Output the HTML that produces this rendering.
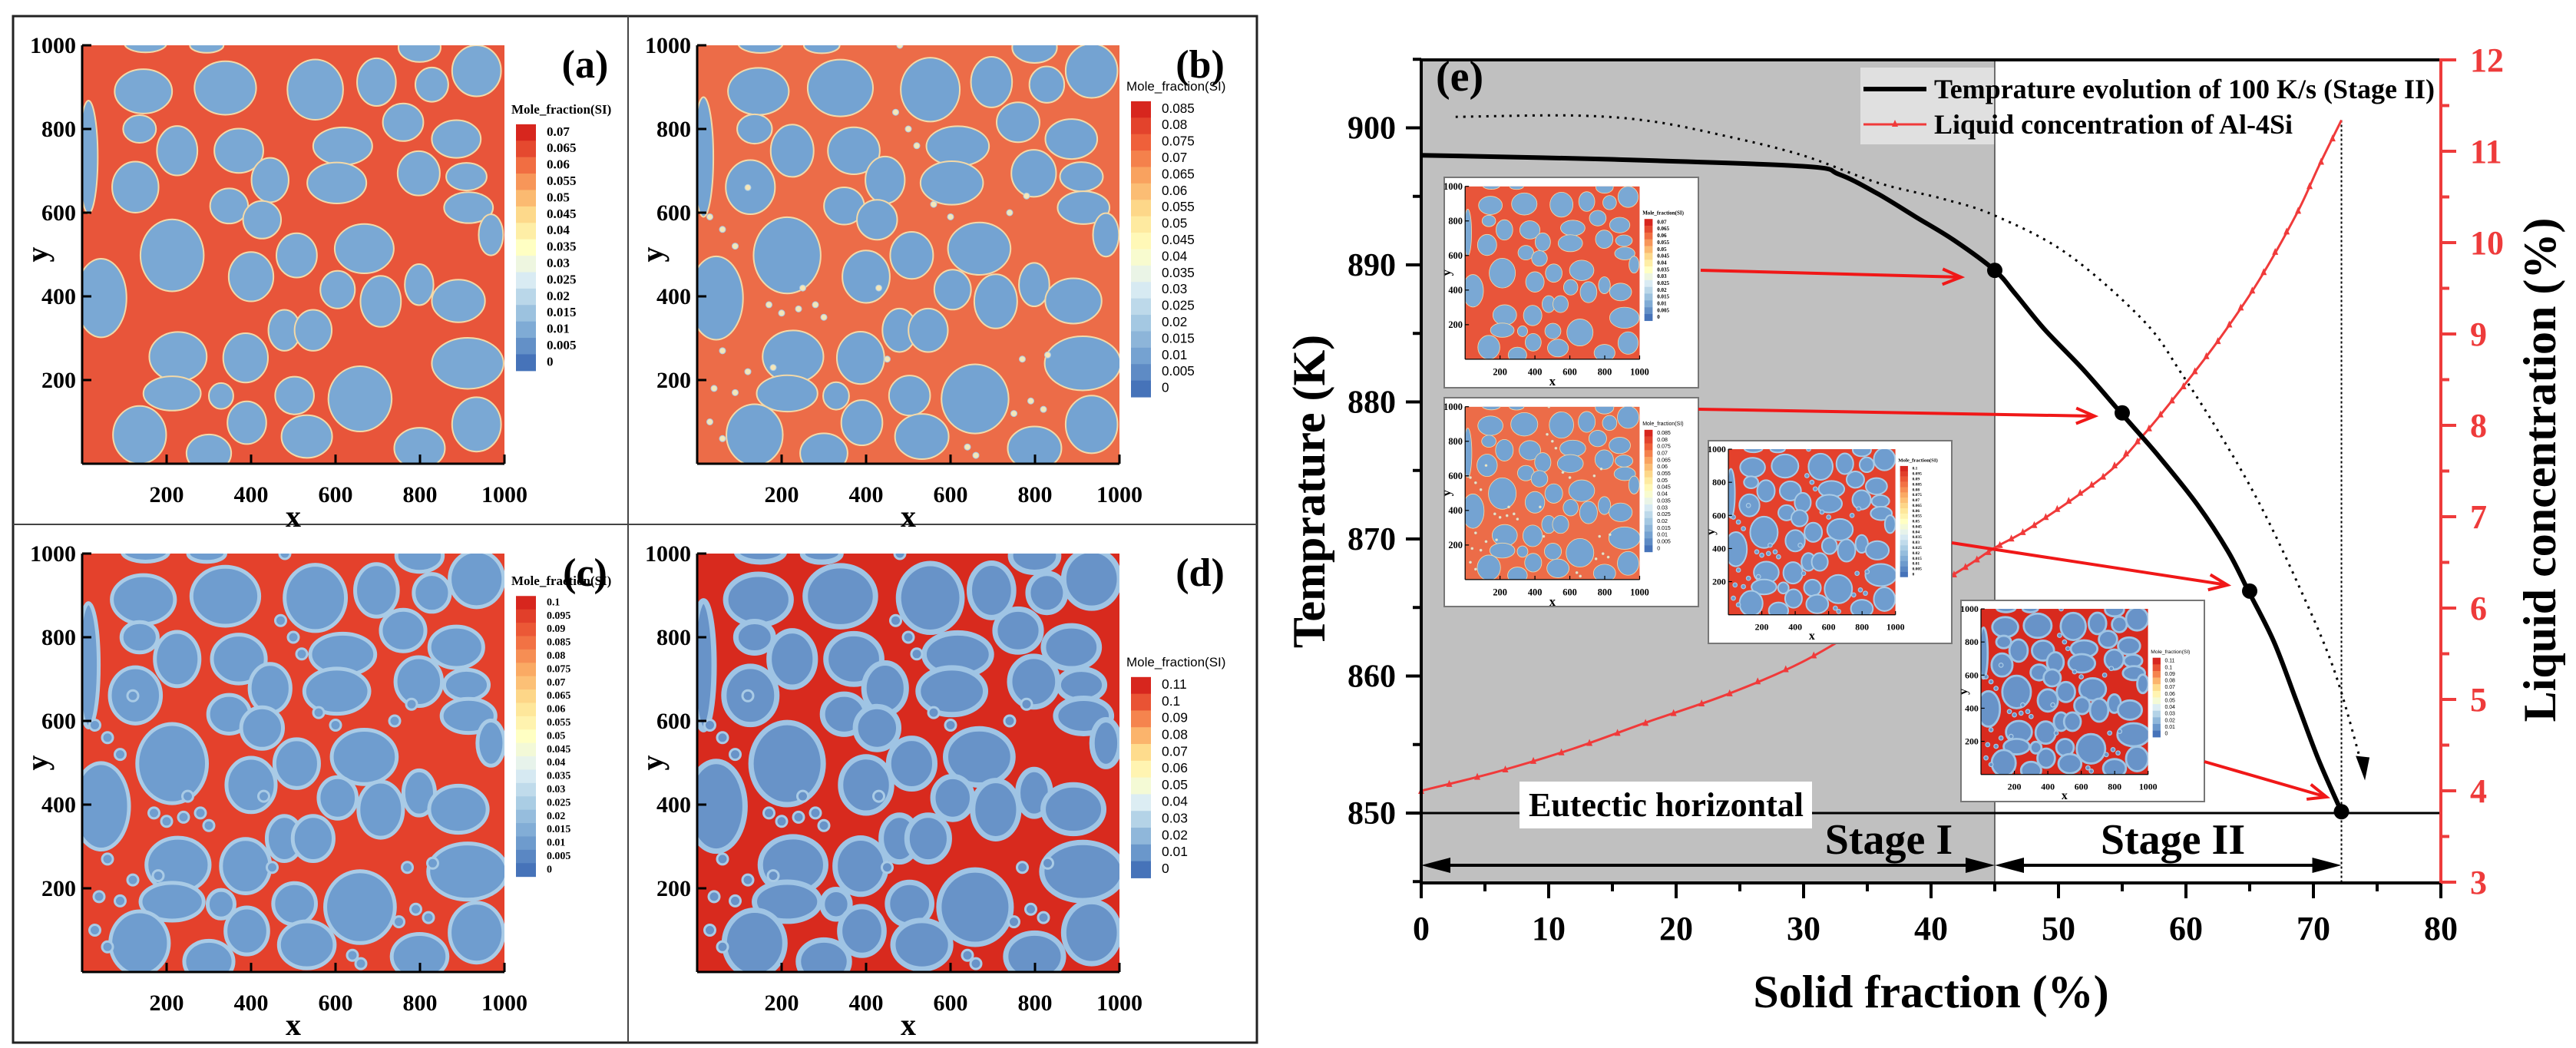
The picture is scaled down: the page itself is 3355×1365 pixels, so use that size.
<!DOCTYPE html>
<html><head><meta charset="utf-8"><title>Solidification figure</title>
<style>html,body{margin:0;padding:0;background:#fff}svg{display:block}text{font-family:"Liberation Serif",serif;font-weight:bold}</style>
</head><body>
<svg id="fig" width="3355" height="1365" viewBox="0 0 3355 1365" xmlns="http://www.w3.org/2000/svg">
<rect width="3355" height="1365" fill="#fff"/>
<g id="panels"></g>
<g id="chart"></g>
</svg>
<script>
// ---------- chart data ----------
const sfBlack=[0,14.9,29.9,32.8,35.8,38.8,41.8,45,46.6,48.9,51.9,54.9,57.9,60.9,63.3,64.9,66.9,68.7,70.4,72.2];
const tBlack=[898,897.7,897.2,896.6,895.2,893.5,891.8,889.6,887.9,885.3,882.4,879.2,876.0,872.5,869.1,866.2,862.5,858.1,853.9,850.1];
const sfMarks=[45,55,65,72.2];
const tMarks=[889.6,879.2,866.2,850.1];
const sfDot=[2.7,11.9,17.9,23.9,29.9,35.8,41,45,50.7,56.7,59.7,62.7,65.7,68.7,71.6,73.8];
const tDot=[900.8,900.9,900.5,899.4,898,896,894.8,893.6,890.8,885.9,882,877.6,872.7,866.9,860.5,853.5];
const sfRed=[0,6,11.9,17.9,23.9,29.9,35.8,41.8,45,47.8,53.7,56.7,59.7,62.7,65.7,68.7,70.4,72.2];
const cRed=[4.0,4.21,4.46,4.76,5.05,5.41,5.89,6.37,6.66,6.88,7.46,7.9,8.41,8.96,9.58,10.32,10.83,11.34];
const xTicks=[0,10,20,30,40,50,60,70,80];
const tTicks=[850,860,870,880,890,900];
const cTicks=[3,4,5,6,7,8,9,10,11,12];
const eutecticT=850;
const stageSplit=45;
const stageEnd=72.2;

const NS="http://www.w3.org/2000/svg";
function mk(tag,attrs,parent){const e=document.createElementNS(NS,tag);for(const k in attrs)e.setAttribute(k,attrs[k]);parent.appendChild(e);return e;}
function txt(s,attrs,parent){const e=mk('text',attrs,parent);e.textContent=s;return e;}
function smoothPath(pts){
  let d='M'+pts[0][0]+','+pts[0][1];
  for(let i=0;i<pts.length-1;i++){
    const p0=pts[Math.max(i-1,0)],p1=pts[i],p2=pts[i+1],p3=pts[Math.min(i+2,pts.length-1)];
    const c1=[p1[0]+(p2[0]-p0[0])/6,p1[1]+(p2[1]-p0[1])/6];
    const c2=[p2[0]-(p3[0]-p1[0])/6,p2[1]-(p3[1]-p1[1])/6];
    d+=` C${c1[0]},${c1[1]} ${c2[0]},${c2[1]} ${p2[0]},${p2[1]}`;
  }
  return d;
}

// axis functions
const X=sf=>1851+16.6*sf;
const YT=t=>1059-17.85*(t-850);
const YC=c=>1149-119*(c-3);

const C=document.getElementById('chart');
let el;
el=mk('rect',{x:X(0),y:78,width:X(stageSplit)-X(0),height:1150-78,fill:'#c0c0c0'},C);


el=mk('rect',{x:2423,y:88,width:X(stageSplit)-2423,height:100,fill:'#e0e0e0'},C);


el=mk('line',{x1:X(stageSplit),y1:78,x2:X(stageSplit),y2:1150,stroke:'#444','stroke-width':1.5},C);



// eutectic line
el=mk('line',{x1:X(0),y1:YT(eutecticT),x2:X(80),y2:YT(eutecticT),stroke:'#000','stroke-width':3},C);


el=mk('rect',{x:1979,y:1018,width:381,height:61,fill:'#fff'},C);


el=txt('Eutectic horizontal',{x:2170,y:1063,'font-size':44,'text-anchor':'middle'},C);



// stage end dotted vertical
el=mk('line',{x1:X(stageEnd),y1:YC(11.34),x2:X(stageEnd),y2:1150,stroke:'#000','stroke-width':2,'stroke-dasharray':'3,3'},C);



// stage arrows
function dblArrow(a,b,y,name){
  const g=mk('g',{},C);
  
  
  mk('line',{x1:X(a)+20,y1:y,x2:X(b)-20,y2:y,stroke:'#000','stroke-width':4},g);
  mk('polygon',{points:`${X(a)},${y} ${X(a)+38},${y-10} ${X(a)+38},${y+10}`,fill:'#000'},g);
  mk('polygon',{points:`${X(b)},${y} ${X(b)-38},${y-10} ${X(b)-38},${y+10}`,fill:'#000'},g);
}
dblArrow(0,stageSplit,1127,'stage-1-arrow');
dblArrow(stageSplit,stageEnd,1127,'stage-2-arrow');
el=txt('Stage I',{x:2460,y:1112,'font-size':56,'text-anchor':'middle'},C);


el=txt('Stage II',{x:2830,y:1112,'font-size':56,'text-anchor':'middle'},C);



// dotted curve
el=mk('path',{d:smoothPath(sfDot.map((s,i)=>[X(s),YT(tDot[i])])),fill:'none',stroke:'#000','stroke-width':3,'stroke-dasharray':'3,7'},C);


{const n=sfDot.length-1;const x=X(sfDot[n]),y=YT(tDot[n]);
el=mk('polygon',{points:`${x+4},${y+20} ${x-8},${y-12} ${x+10},${y-10}`,fill:'#000'},C);

}

// red curve
el=mk('path',{d:smoothPath(sfRed.map((s,i)=>[X(s),YC(cRed[i])])),fill:'none',stroke:'#f03a3a','stroke-width':3},C);


function interpRed(s){for(let i=0;i<sfRed.length-1;i++){if(s<=sfRed[i+1]){const f=(s-sfRed[i])/(sfRed[i+1]-sfRed[i]);return cRed[i]+f*(cRed[i+1]-cRed[i]);}}return cRed[cRed.length-1];}
for(let s=sfRed[0];s<=sfRed[sfRed.length-1];s+=(s<40?2.2:0.9)){
  const x=X(s),y=YC(interpRed(s));
  el=mk('polygon',{points:`${x},${y-5} ${x-4},${y+4} ${x+4},${y+4}`,fill:'#f03a3a'},C);
  
  
}

// black curve
el=mk('path',{d:smoothPath(sfBlack.map((s,i)=>[X(s),YT(tBlack[i])])),fill:'none',stroke:'#000','stroke-width':6,'stroke-linejoin':'round'},C);


sfMarks.forEach((s,i)=>{
  el=mk('circle',{cx:X(s),cy:YT(tMarks[i]),r:10,fill:'#000'},C);
  
  
});

// axes
el=mk('line',{x1:X(0),y1:78,x2:X(80),y2:78,stroke:'#000','stroke-width':4},C);


el=mk('line',{x1:X(0),y1:76,x2:X(0),y2:1152,stroke:'#000','stroke-width':4},C);


el=mk('line',{x1:X(0)-2,y1:1150,x2:X(80),y2:1150,stroke:'#000','stroke-width':4},C);


el=mk('line',{x1:X(80),y1:76,x2:X(80),y2:1150,stroke:'#ee3b3b','stroke-width':4},C);



xTicks.forEach(v=>{
  mk('line',{x1:X(v),y1:1150,x2:X(v),y2:1170,stroke:'#000','stroke-width':4},C);
  mk('line',{x1:X(v+5),y1:1150,x2:X(v+5),y2:1161,stroke:'#000','stroke-width':4},C).setAttribute('visibility',v<80?'visible':'hidden');
  el=txt(String(v),{x:X(v),y:1224,'font-size':44,'text-anchor':'middle'},C);
  
  
});
tTicks.forEach(v=>{
  mk('line',{x1:X(0)-20,y1:YT(v),x2:X(0),y2:YT(v),stroke:'#000','stroke-width':4},C);
  mk('line',{x1:X(0)-11,y1:YT(v+5),x2:X(0),y2:YT(v+5),stroke:'#000','stroke-width':4},C);
  el=txt(String(v),{x:1818,y:YT(v)+14,'font-size':42,'text-anchor':'end'},C);
  
  
});
mk('line',{x1:X(0)-11,y1:YT(845),x2:X(0),y2:YT(845),stroke:'#000','stroke-width':4},C);
cTicks.forEach(v=>{
  mk('line',{x1:X(80),y1:YC(v),x2:X(80)+20,y2:YC(v),stroke:'#ee3b3b','stroke-width':4},C);
  if(v<12)mk('line',{x1:X(80),y1:YC(v+0.5),x2:X(80)+11,y2:YC(v+0.5),stroke:'#ee3b3b','stroke-width':4},C);
  el=txt(String(v),{x:3217,y:YC(v)+15,'font-size':44,fill:'#ee3b3b'},C);
  
  
});
el=txt('Solid fraction (%)',{x:2515,y:1312,'font-size':60,'text-anchor':'middle'},C);


el=txt('Temprature (K)',{x:0,y:0,'font-size':60,'text-anchor':'middle',transform:'translate(1725,640) rotate(-90)'},C);


el=txt('Liquid concentration (%)',{x:0,y:0,'font-size':60,'text-anchor':'middle',transform:'translate(3328,612) rotate(-90)'},C);


el=txt('(e)',{x:1870,y:118,'font-size':56},C);



// legend
el=mk('line',{x1:2427,y1:116,x2:2509,y2:116,stroke:'#000','stroke-width':6},C);


el=txt('Temprature evolution of 100 K/s (Stage II)',{x:2519,y:128,'font-size':36},C);


el=mk('line',{x1:2427,y1:162,x2:2509,y2:162,stroke:'#f03a3a','stroke-width':3},C);


mk('polygon',{points:'2468,156 2464,165 2472,165',fill:'#f03a3a'},C);
el=txt('Liquid concentration of Al-4Si',{x:2519,y:174,'font-size':36},C);



// ---------- microstructure panels ----------
const blobs=[[145,890,68,53],[339,898,73,64],[552,894,66,72],[697,912,46,57],[828,906,39,41],[934,939,58,61],[799,995,50,35],
[136,800,39,33],[225,748,48,59],[371,748,58,53],[617,759,70,45],[760,816,48,45],[886,776,58,45],[126,661,55,61],[445,678,44,53],
[603,671,70,49],[797,694,50,53],[910,686,48,33],[915,612,58,37],[968,547,29,49],[348,616,45,42],[426,583,45,45],[213,498,75,86],
[45,396,60,94],[508,498,48,53],[668,514,70,59],[400,447,53,59],[605,416,41,45],[707,388,48,61],[798,428,34,49],[891,389,63,51],
[913,240,85,61],[479,319,38,49],[547,319,44,49],[227,256,68,59],[387,253,53,59],[213,168,68,41],[329,162,29,31],[390,98,46,51],
[503,163,46,45],[658,155,75,78],[532,65,60,51],[136,69,63,69],[300,25,53,45],[799,37,60,49],[934,94,58,65],[15,733,22,135],
[150,1005,50,22],[295,1000,40,18]];
const dotsSmall=[[60,560],[90,520],[30,590],[170,380],[200,360],[280,380],[300,350],[250,420],[60,270],[120,220],[40,180],[90,170],[30,100],
[60,60],[470,840],[500,800],[520,760],[560,620],[600,590],[740,600],[780,640],[830,260],[770,250],[790,150],[820,130],[750,120],
[640,40],[660,20],[430,420],[450,250],[120,660],[180,230],[480,1000],[240,370]];
const cbA=[0.07,0.065,0.06,0.055,0.05,0.045,0.04,0.035,0.03,0.025,0.02,0.015,0.01,0.005,0];
const cbB=[0.085,0.08,0.075,0.07,0.065,0.06,0.055,0.05,0.045,0.04,0.035,0.03,0.025,0.02,0.015,0.01,0.005,0];
const cbC=[0.1,0.095,0.09,0.085,0.08,0.075,0.07,0.065,0.06,0.055,0.05,0.045,0.04,0.035,0.03,0.025,0.02,0.015,0.01,0.005,0];
const cbD=[0.11,0.1,0.09,0.08,0.07,0.06,0.05,0.04,0.03,0.02,0.01,0];
const pal=[[215,38,30],[240,100,60],[250,170,100],[254,225,145],[255,255,195],[225,240,245],[170,205,228],[120,165,210],[70,115,185]];
function palColor(t){const p=t*(pal.length-1);const i=Math.min(Math.floor(p),pal.length-2);const f=p-i;const a=pal[i],b=pal[i+1];return `rgb(${a.map((v,k)=>Math.round(v+(b[k]-v)*f)).join(',')})`;}
const panelDefs=[
 {lab:'(a)',ox:17,oy:21,cb:cbA,bg:'#e8553a',blue:'#7aa8d4',ring:'#f3d9a8',ringW:2,grow:1.0,dots:0,cbTop:143,cbStep:21.4,bold:true},
 {lab:'(b)',ox:818,oy:21,cb:cbB,bg:'#ec6c48',blue:'#74a3d2',ring:'#f3d9a8',ringW:2,grow:1.06,dots:1,cbTop:113,cbStep:21.4,bold:false},
 {lab:'(c)',ox:17,oy:683,cb:cbC,bg:'#e4412c',blue:'#6f9dcf',ring:'#a9cbe6',ringW:5,grow:1.1,dots:2,cbTop:95,cbStep:17.4,bold:true},
 {lab:'(d)',ox:818,oy:683,cb:cbD,bg:'#d82a1e',blue:'#6893c8',ring:'#9fc4e4',ringW:7,grow:1.14,dots:2,cbTop:201,cbStep:21.8,bold:false}
];
let clipId=0;
function drawPanel(parent,d,tx,ty,s,name){
  const g=mk('g',{transform:`translate(${tx},${ty}) scale(${s})`},parent);
  
  
  const px=90,py=38,pw=550,ph=545;
  const PX=v=>px+v*pw/1000, PY=v=>py+ph-v*ph/1000;
  const id='clip'+(clipId++);
  const cp=mk('clipPath',{id:id},g);mk('rect',{x:px,y:py,width:pw,height:ph},cp);
  const pg=mk('g',{'clip-path':`url(#${id})`},g);
  mk('rect',{x:px,y:py,width:pw,height:ph,fill:d.bg},pg);
  blobs.forEach(b=>{
    const e=mk('ellipse',{cx:PX(b[0]),cy:PY(b[1]),rx:b[2]*d.grow*pw/1000,ry:b[3]*d.grow*ph/1000,fill:d.blue,stroke:d.ring,'stroke-width':d.ringW},pg);
    
    
  });
  if(d.dots){dotsSmall.forEach(p=>{mk('circle',{cx:PX(p[0]),cy:PY(p[1]),r:d.dots===1?4:7,fill:d.dots===1?'#f5e6b8':d.blue,stroke:'#a9cbe6','stroke-width':d.dots===1?1:3},pg);});}
  mk('line',{x1:px,y1:py,x2:px,y2:py+ph,stroke:'#000','stroke-width':3},g);
  mk('line',{x1:px,y1:py+ph,x2:px+pw,y2:py+ph,stroke:'#000','stroke-width':3},g);
  [200,400,600,800,1000].forEach(v=>{
    mk('line',{x1:PX(v),y1:py+ph,x2:PX(v),y2:py+ph-12,stroke:'#000','stroke-width':3},g);
    txt(String(v),{x:PX(v),y:py+ph+50,'font-size':30,'text-anchor':'middle'},g);
    mk('line',{x1:px,y1:PY(v),x2:px+12,y2:PY(v),stroke:'#000','stroke-width':3},g);
    txt(String(v),{x:px-8,y:PY(v)+10,'font-size':30,'text-anchor':'end'},g);
  });
  txt('x',{x:px+pw/2,y:py+ph+82,'font-size':40,'text-anchor':'middle'},g);
  txt('y',{x:0,y:0,'font-size':40,'text-anchor':'middle',transform:`translate(45,${py+ph/2}) rotate(-90)`},g);
  txt(d.lab,{x:745,y:80,'font-size':52,'text-anchor':'middle'},g);
  const cbx=655,n=d.cb.length;
  const tt=txt('Mole_fraction(SI)',{x:cbx-6,y:d.cbTop-16,'font-size':17},g);
  if(!d.bold){tt.setAttribute('style','font-family:"Liberation Sans",sans-serif;font-weight:normal');}
  d.cb.forEach((v,i)=>{
    mk('rect',{x:cbx,y:d.cbTop+i*d.cbStep-d.cbStep*0.1,width:26,height:d.cbStep+0.5,fill:palColor(i/(n-1))},g);
    const t=txt(String(v),{x:cbx+40,y:d.cbTop+i*d.cbStep+d.cbStep*0.6,'font-size':d.cbStep*0.8},g);
    if(!d.bold){t.setAttribute('style','font-family:"Liberation Sans",sans-serif;font-weight:normal');}
  });
  return g;
}
const P=document.getElementById('panels');
el=mk('rect',{x:17,y:21,width:1620,height:1337,fill:'none',stroke:'#222','stroke-width':3},P);


mk('line',{x1:818,y1:21,x2:818,y2:1358,stroke:'#444','stroke-width':2},P);
mk('line',{x1:17,y1:683,x2:1637,y2:683,stroke:'#444','stroke-width':2},P);
panelDefs.forEach((d,i)=>drawPanel(P,d,d.ox,d.oy,1,'panel-'+'abcd'[i]));

// insets on chart
const insets=[[1881,231,331,274],[1881,518,331,272],[2225,574,317,264],[2554,782,317,262]];
insets.forEach((r,i)=>{
  el=mk('rect',{x:r[0],y:r[1],width:r[2],height:r[3],fill:'#fff',stroke:'#777','stroke-width':2},C);
  
  
  drawPanel(C,Object.assign({},panelDefs[i],{lab:''}),r[0]-10*r[2]/331,r[1]-4,r[2]/801,'inset-map-'+(i+1));
});
const arrows=[[2215,352,2554,361],[2212,533,2728,542],[2542,707,2901,762],[2871,992,3030,1038]];
arrows.forEach((a,i)=>{
  const g=mk('g',{},C);
  
  
  const ang=Math.atan2(a[3]-a[1],a[2]-a[0]);
  mk('line',{x1:a[0],y1:a[1],x2:a[2],y2:a[3],stroke:'#f01818','stroke-width':4},g);
  const L=24,W=10;
  const p1=[a[2]-L*Math.cos(ang)+W*Math.sin(ang),a[3]-L*Math.sin(ang)-W*Math.cos(ang)];
  const p2=[a[2]-L*Math.cos(ang)-W*Math.sin(ang),a[3]-L*Math.sin(ang)+W*Math.cos(ang)];
  mk('polyline',{points:`${p1} ${a[2]},${a[3]} ${p2}`,fill:'none',stroke:'#f01818','stroke-width':4},g);
});
</script>
</body></html>
